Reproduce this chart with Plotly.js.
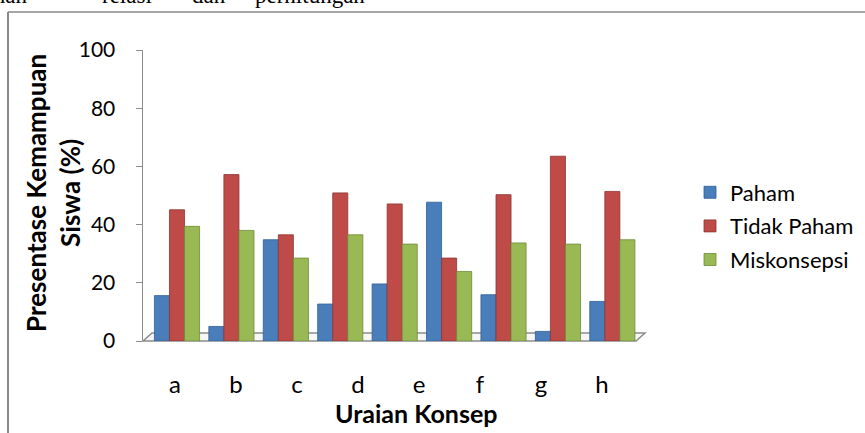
<!DOCTYPE html>
<html>
<head>
<meta charset="utf-8">
<script src="https://cdn.plot.ly/plotly-3.0.1.min.js"></script>
<style>html,body{margin:0;padding:0;background:#fff;}#chart{width:865px;height:433px;}</style>
</head>
<body>
<div id="chart"></div>
<script>
// ---- data ----
const groups = ['G1','G2','G3','G4','G5','G6','G7','G8','G9'];
const tickLabels = ['a','b','c','d','e','f','g','h'];
const seriesNames = ['Paham','Tidak Paham','Miskonsepsi'];
const paham = [15.6, 5.0, 34.8, 12.7, 19.6, 47.7, 15.9, 3.3, 13.6];
const tidakPaham = [45.1, 57.2, 36.5, 50.9, 47.1, 28.5, 50.3, 63.5, 51.4];
const miskonsepsi = [39.4, 38.0, 28.5, 36.5, 33.3, 23.9, 33.7, 33.3, 34.8];
const yTitle = 'Presentase Kemampuan<br>Siswa (%)';
const xTitle = 'Uraian Konsep';
const topWords = ['alahan','relasi','dan','perhitungan'];

// ---- layout helpers (pixel -> paper) ----
const W = 865, H = 433;
const M = {l:143, r:220, t:50, b:92};
const PW = W - M.l - M.r, PH = H - M.t - M.b;
const px = x => (x - M.l) / PW;
const py = y => (H - M.b - y) / PH;

const colors = ['#4A7EBB', '#BE4B48', '#98B954'];
const lines = ['#2F5F96', '#8E3330', '#6E8C38'];
const values = [paham, tidakPaham, miskonsepsi];

const traces = values.map((v, i) => ({
  type: 'bar', x: groups, y: v, name: seriesNames[i],
  legendgroup: 'g' + i,
  marker: {color: colors[i], line: {color: lines[i], width: 0.8}},
  hoverinfo: 'skip'
}));
// carrier for the category tick labels on the second x axis
traces.push({type: 'scatter', mode: 'none', x: tickLabels, y: tickLabels.map(() => 0),
  xaxis: 'x2', showlegend: false, hoverinfo: 'skip'});

const font = 'Lato, "Open Sans", sans-serif';
const wordX = [30, 100, 190, 253];
const annotations = [
  {xref:'paper', yref:'paper', x: px(53), y: py(193), text: yTitle, textangle: -90,
   showarrow:false, font:{family:font, size:26, color:'#000', weight:'bold'}, xanchor:'center', yanchor:'middle'},
  {xref:'paper', yref:'paper', x: px(416), y: py(413), text: xTitle,
   showarrow:false, font:{family:font, size:25, color:'#000', weight:'bold'}, xanchor:'center', yanchor:'middle'}
];
topWords.forEach((w, i) => annotations.push({
  xref:'paper', yref:'paper', x: px(wordX[i]), y: py(-5), text: w, showarrow:false,
  xanchor: i === 0 ? 'right' : 'left', yanchor:'middle',
  font:{family:'"Liberation Serif", "DejaVu Serif", serif', size:23, color:'#000'}
}));

const gray = '#8C8C8C';
const shapes = [
  // outer chart border (left and top)
  {type:'line', xref:'paper', yref:'paper', x0:px(8), y0:py(12), x1:px(880), y1:py(12), line:{color:'#888', width:1.5}},
  {type:'line', xref:'paper', yref:'paper', x0:px(8), y0:py(12), x1:px(8), y1:py(450), line:{color:'#888', width:2}},
  // 3D floor outline
  {type:'path', xref:'paper', yref:'paper', layer:'below',
   path: `M${px(143)},${py(341)} L${px(152)},${py(333)} L${px(645)},${py(333)} L${px(636)},${py(341)} Z`,
   line:{color:gray, width:1.5}, fillcolor:'#F7F7F7'}
];

const layout = {
  width: W, height: H,
  margin: {l:M.l, r:M.r, t:M.t, b:M.b, pad:0, autoexpand:false},
  paper_bgcolor:'#fff', plot_bgcolor:'rgba(0,0,0,0)',
  barmode:'group', bargap:0.17, bargroupgap:0,
  showlegend:true,
  legend:{x: px(690), y: py(226), xanchor:'left', yanchor:'middle', traceorder:'grouped',
    tracegroupgap: 2, font:{family:font, size:22, color:'#000'}, bgcolor:'rgba(0,0,0,0)'},
  xaxis:{type:'category', range:[-0.625, 8.6], showticklabels:false, ticks:'', showgrid:false,
    showline:false, zeroline:false, fixedrange:true},
  xaxis2:{type:'category', overlaying:'x', anchor:'y', side:'bottom',
    range:[-0.525, 7.705], ticks:'outside', ticklen:22, tickcolor:'rgba(0,0,0,0)',
    showgrid:false, showline:false, zeroline:false,
    tickfont:{family:font, size:24, color:'#000'}},
  yaxis:{range:[0,100], dtick:20, tick0:0, showgrid:false, zeroline:false,
    showline:true, linecolor:gray, linewidth:1.5, ticks:'outside', ticklen:6, tickcolor:gray,
    ticklabelstandoff:16,
    tickfont:{family:font, size:21, color:'#000'}},
  annotations: annotations,
  shapes: shapes
};

Plotly.newPlot('chart', traces, layout, {staticPlot:true, displayModeBar:false});
</script>
</body>
</html>
